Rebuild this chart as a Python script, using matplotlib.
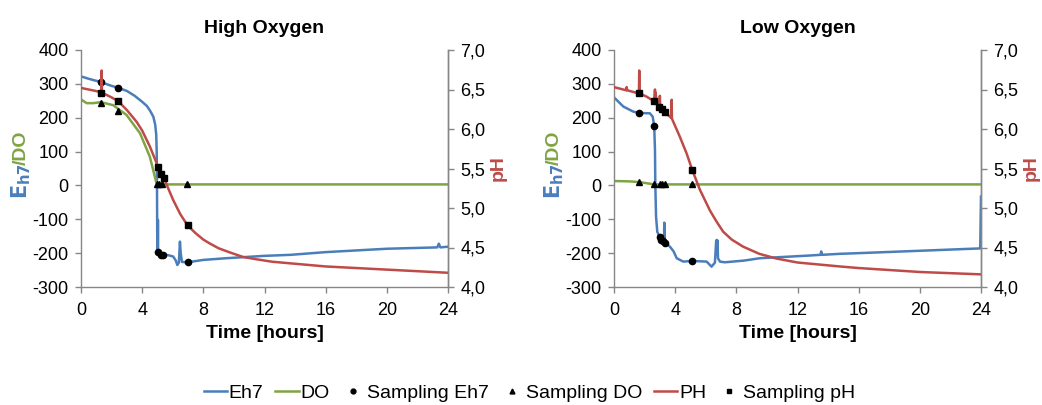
import matplotlib
matplotlib.use("Agg")
import matplotlib.pyplot as plt
from matplotlib.lines import Line2D
from matplotlib.ticker import FuncFormatter

plt.rcParams["font.family"] = ["Liberation Sans", "DejaVu Sans"]
plt.rcParams["axes.unicode_minus"] = False

BLUE = "#4a7ebb"
GREEN = "#7ea443"
RED = "#be4b48"
GRAY = "#868686"

# ---- High oxygen ----
hi_eh_t = [0, 0.5, 1.0, 1.3, 2.0, 2.4, 3.0, 3.5, 4.0, 4.3, 4.5, 4.73, 4.85, 4.92, 4.95,
           4.97, 4.98, 4.99, 5.0, 5.02, 5.03, 5.04, 5.16, 5.38, 5.7, 6.03, 6.2, 6.3, 6.4,
           6.47, 6.52, 6.6, 6.97, 8.0, 9.5, 12.0, 13.7, 16.0, 20.0, 23.3, 23.4, 23.5, 24.0]
hi_eh = [322, 315, 309, 305, 294, 289, 279, 265, 247, 235, 222, 203, 180, 150, 100,
         0, -100, -185, -195, -190, -102, -190, -198, -205, -206, -210, -222, -235, -228,
         -166, -200, -226, -227, -220, -215, -208, -205, -197, -187, -183, -172, -183, -181]

hi_do_t = [0, 0.37, 0.8, 1.29, 2.11, 2.98, 3.86, 4.5, 4.94, 5.0, 24.0]
hi_do = [254, 243, 243, 246, 237, 208, 154, 85, 6, 3, 3]

hi_ph_t = [0, 1.0, 1.33, 1.35, 1.37, 2.0, 2.44, 3.0, 3.64, 4.0, 4.5, 4.94, 5.2, 5.38, 5.7,
           6.03, 6.5, 6.97, 7.5, 8.0, 8.43, 9.0, 9.7, 10.6, 11.5, 12.5, 13.66, 16.0, 20.0, 24.0]
hi_ph = [6.52, 6.48, 6.46, 6.74, 6.46, 6.40, 6.35, 6.24, 6.09, 5.98, 5.78, 5.57, 5.46, 5.40, 5.25,
         5.10, 4.92, 4.78, 4.68, 4.60, 4.55, 4.49, 4.44, 4.38, 4.35, 4.32, 4.30, 4.26, 4.22, 4.18]

hi_s_eh_t = [1.29, 2.39, 5.05, 5.23, 5.38, 6.97]
hi_s_eh = [305, 289, -197, -205, -206, -227]
hi_s_do_t = [1.29, 2.39, 4.97, 5.12, 5.27, 6.95]
hi_s_do = [243, 220, 4, 4, 4, 4]
hi_s_ph_t = [1.29, 2.39, 5.05, 5.23, 5.42, 6.97]
hi_s_ph = [6.46, 6.35, 5.52, 5.43, 5.38, 4.78]

# ---- Low oxygen ----
lo_eh_t = [0, 0.07, 0.61, 1.26, 1.65, 2.35, 2.53, 2.63, 2.68, 2.70, 2.75, 2.83, 3.0, 3.16,
           3.27, 3.29, 3.31, 3.33, 3.66, 3.9, 4.1, 4.53, 5.12, 6.06, 6.38, 6.6, 6.68, 6.71,
           6.74, 6.77, 6.8, 6.93, 7.25, 8.5, 9.54, 12.8, 13.5, 13.55, 13.6, 14.77, 16.0,
           20.0, 23.95, 24.0]
lo_eh = [260, 257, 233, 218, 214, 213, 203, 175, 105, 6, -92, -137, -153, -163,
         -167, -110, -168, -169, -181, -195, -215, -225, -223, -225, -240, -228, -165, -161,
         -200, -163, -215, -225, -227, -222, -215, -207, -205, -195, -205, -202, -200,
         -193, -186, -33]

lo_do_t = [0, 1.0, 1.65, 2.35, 2.63, 24.0]
lo_do = [13, 12, 10, 5, 3, 3]

lo_ph_t = [0, 0.8, 0.83, 0.86, 1.63, 1.65, 1.67, 2.13, 2.63, 2.68, 2.7, 2.72, 2.8, 2.96,
           3.0, 3.02, 3.33, 3.75, 3.77, 3.79, 4.31, 4.75, 5.12, 5.62, 6.27, 6.7, 7.14, 7.7,
           8.45, 9.5, 10.63, 12.0, 14.77, 16.0, 20.0, 24.0]
lo_ph = [6.53, 6.49, 6.53, 6.49, 6.45, 6.74, 6.45, 6.41, 6.35, 6.50, 6.34, 6.46, 6.31, 6.28,
         6.42, 6.27, 6.21, 6.14, 6.37, 6.13, 5.90, 5.69, 5.48, 5.23, 4.97, 4.83, 4.70, 4.60,
         4.51, 4.42, 4.36, 4.31, 4.26, 4.24, 4.19, 4.16]

lo_s_eh_t = [1.65, 2.63, 3.0, 3.1, 3.2, 3.33, 5.12]
lo_s_eh = [214, 175, -153, -160, -165, -169, -223]
lo_s_do_t = [1.65, 2.63, 3.0, 3.16, 3.33, 5.12]
lo_s_do = [10, 3, 3, 3, 3, 3]
lo_s_ph_t = [1.65, 2.63, 2.96, 3.16, 3.33, 5.12]
lo_s_ph = [6.45, 6.35, 6.28, 6.25, 6.21, 5.48]

x_ticks = [0, 4, 8, 12, 16, 20, 24]
y_ticks = [-300, -200, -100, 0, 100, 200, 300, 400]
ph_ticks = [4.0, 4.5, 5.0, 5.5, 6.0, 6.5, 7.0]

panels = [
    ("High Oxygen", hi_eh_t, hi_eh, hi_do_t, hi_do, hi_ph_t, hi_ph,
     hi_s_eh_t, hi_s_eh, hi_s_do_t, hi_s_do, hi_s_ph_t, hi_s_ph),
    ("Low Oxygen", lo_eh_t, lo_eh, lo_do_t, lo_do, lo_ph_t, lo_ph,
     lo_s_eh_t, lo_s_eh, lo_s_do_t, lo_s_do, lo_s_ph_t, lo_s_ph),
]

W, H = 1042, 405
fig = plt.figure(figsize=(W / 100, H / 100), dpi=100)
lefts = [81, 614]
ax_w = 367
top, bottom = 50, 287


def style_axis(ax):
    for s in ax.spines.values():
        s.set_color(GRAY)
        s.set_linewidth(1.0)
    ax.tick_params(colors=GRAY, labelcolor="black", labelsize=13, length=4, width=1, pad=5)


for (title, et, ev, dt, dv, pt, pv, set_, sev, sdt, sdv, spt, spv), x0 in zip(panels, lefts):
    ax = fig.add_axes([x0 / W, 1 - bottom / H, ax_w / W, (bottom - top) / H])
    ax.plot(et, ev, color=BLUE, lw=1.8, zorder=2)
    ax.plot(dt, dv, color=GREEN, lw=1.8, zorder=2)
    ax.plot(set_, sev, "o", color="black", ms=4.5, zorder=3)
    ax.plot(sdt, sdv, "^", color="black", ms=4.5, zorder=3)
    ax.set_xlim(0, 24)
    ax.set_ylim(-300, 400)
    ax.set_xticks(x_ticks)
    ax.set_yticks(y_ticks)
    ax.spines["top"].set_visible(False)
    style_axis(ax)
    ax.tick_params(axis="x", pad=7)
    ax.set_title(title, fontsize=14, fontweight="bold", pad=12)
    ax.set_xlabel("Time [hours]", fontsize=14, fontweight="bold", labelpad=4)

    ax2 = ax.twinx()
    ax2.plot(pt, pv, color=RED, lw=1.8)
    ax2.plot(spt, spv, "s", color="black", ms=5)
    ax2.set_ylim(4.0, 7.0)
    ax2.set_yticks(ph_ticks)
    ax2.yaxis.set_major_formatter(FuncFormatter(lambda v, p: f"{v:.1f}".replace(".", ",")))
    ax2.spines["top"].set_visible(False)
    ax2.spines["left"].set_visible(False)
    ax2.spines["bottom"].set_visible(False)
    style_axis(ax2)

    # right axis label
    fig.text((x0 + ax_w + 50) / W, 1 - 168 / H, "pH", color=RED, fontsize=14,
             fontweight="bold", rotation=90, ha="center", va="center")

# left axis labels in two colours
fig.canvas.draw()
renderer = fig.canvas.get_renderer()
for xc in [21, 554]:
    t1 = fig.text(xc / W, 1 - 199 / H, r"$\mathbf{E}_{\mathbf{h7}}$", color=BLUE,
                  fontsize=15, rotation=90, ha="center", va="bottom")
    bb = t1.get_window_extent(renderer)
    t2 = fig.text(xc / W, (bb.y1 - 2) / H, "/DO", color=GREEN, fontsize=14,
                  fontweight="bold", rotation=90, ha="center", va="bottom")

handles = [
    Line2D([], [], color=BLUE, lw=1.8),
    Line2D([], [], color=GREEN, lw=1.8),
    Line2D([], [], ls="none", marker="o", color="black", ms=3.5),
    Line2D([], [], ls="none", marker="^", color="black", ms=3.5),
    Line2D([], [], color=RED, lw=1.8),
    Line2D([], [], ls="none", marker="s", color="black", ms=3.5),
]
labels = ["Eh7", "DO", "Sampling Eh7", "Sampling DO", "PH", "Sampling pH"]
fig.legend(handles, labels, loc="center", bbox_to_anchor=(0.508, 1 - 393 / H), ncol=6,
           frameon=False, fontsize=14, handlelength=1.2, handletextpad=0.1,
           columnspacing=0.6)

fig.savefig("out.png", dpi=100)
